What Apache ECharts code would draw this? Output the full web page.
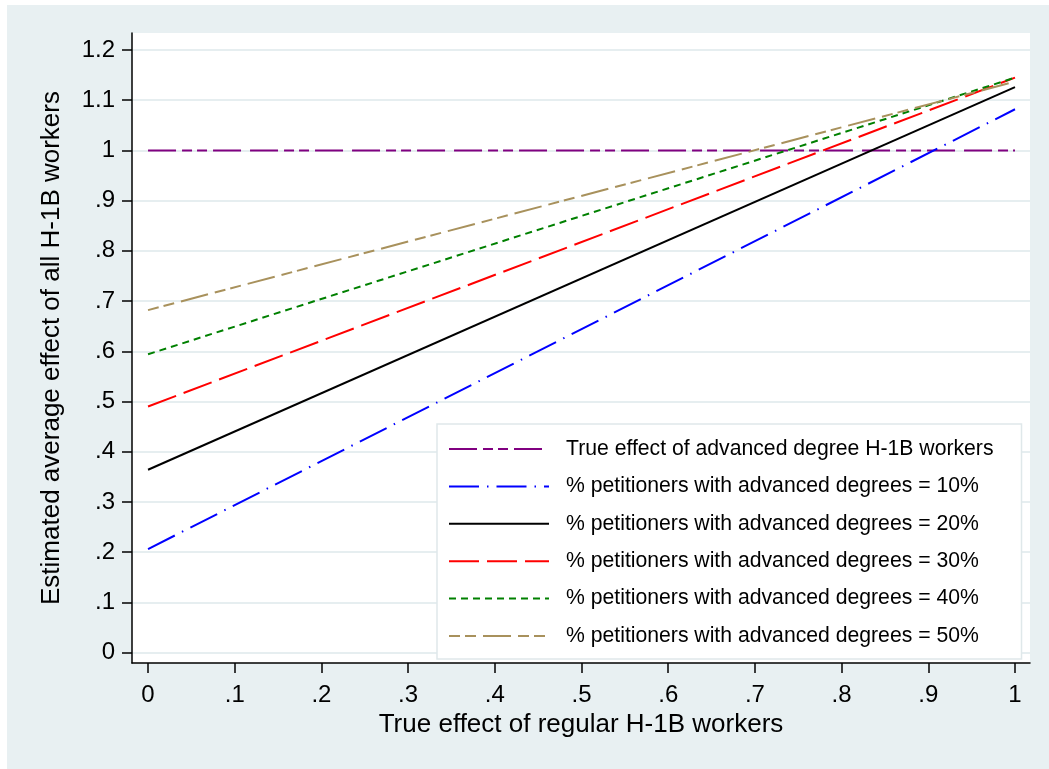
<!DOCTYPE html>
<html>
<head>
<meta charset="utf-8">
<script src="https://cdn.jsdelivr.net/npm/echarts@6/dist/echarts.min.js"></script>
<style>
  html, body { margin: 0; padding: 0; background: #ffffff; width: 1049px; height: 769px; overflow: hidden; }
  #chart { position: absolute; left: 7px; top: 5px; width: 1042px; height: 764px; }
</style>
</head>
<body>
<div id="chart"></div>
<script>
// ---- data ----
const xValues = [0, 1];
const seriesNames = [
  'True effect of advanced degree H-1B workers',
  '% petitioners with advanced degrees = 10%',
  '% petitioners with advanced degrees = 20%',
  '% petitioners with advanced degrees = 30%',
  '% petitioners with advanced degrees = 40%',
  '% petitioners with advanced degrees = 50%'
];
const trueEffect = [1, 1];
const pct10 = [0.206, 1.082];
const pct20 = [0.364, 1.126];
const pct30 = [0.490, 1.145];
const pct40 = [0.594, 1.145];
const pct50 = [0.682, 1.137];

const xTickValues = [0, 0.1, 0.2, 0.3, 0.4, 0.5, 0.6, 0.7, 0.8, 0.9, 1];
const xTickLabels = ['0', '.1', '.2', '.3', '.4', '.5', '.6', '.7', '.8', '.9', '1'];
const yTickValues = [0, 0.1, 0.2, 0.3, 0.4, 0.5, 0.6, 0.7, 0.8, 0.9, 1, 1.1, 1.2];
const yTickLabels = ['0', '.1', '.2', '.3', '.4', '.5', '.6', '.7', '.8', '.9', '1', '1.1', '1.2'];

const xTitle = 'True effect of regular H-1B workers';
const yTitle = 'Estimated average effect of all H-1B workers';

// ---- styling ----
const FONT = "'Liberation Sans', Arial, Helvetica, sans-serif";
const styles = [
  { color: '#800080', dash: [28, 6, 10, 5, 10, 6, 28, 9] },
  { color: '#0000ff', dash: [30, 8, 1.5, 8] },
  { color: '#000000', dash: 'solid' },
  { color: '#ff0000', dash: [30, 8] },
  { color: '#008000', dash: [7, 5] },
  { color: '#a8915c', dash: [11, 5, 11, 7, 28, 7] }
];
const allValues = [trueEffect, pct10, pct20, pct30, pct40, pct50];

function labelFor(values, labels) {
  return function (v) {
    for (let i = 0; i < values.length; i++) {
      if (Math.abs(values[i] - v) < 1e-6) return labels[i];
    }
    return '';
  };
}

const chart = echarts.init(document.getElementById('chart'), null, { renderer: 'canvas' });

const option = {
  backgroundColor: '#e8f0f2',
  animation: false,
  textStyle: { fontFamily: FONT },
  grid: {
    left: 125, top: 28, width: 898, height: 630,
    show: true, backgroundColor: '#ffffff', borderWidth: 0,
    containLabel: false, outerBoundsMode: 'none'
  },
  xAxis: {
    type: 'value',
    min: -0.0185, max: 1.0173,
    name: xTitle,
    nameLocation: 'middle',
    nameGap: 48,
    nameTextStyle: { fontSize: 26, color: '#000', fontFamily: FONT },
    axisLine: { show: true, onZero: false, lineStyle: { color: '#000', width: 1.5 } },
    axisTick: { show: true, length: 10, customValues: xTickValues, lineStyle: { color: '#000', width: 1.5 } },
    axisLabel: {
      customValues: xTickValues,
      formatter: labelFor(xTickValues, xTickLabels),
      fontSize: 24, color: '#000', margin: 20, fontFamily: FONT
    },
    splitLine: { show: false }
  },
  yAxis: {
    type: 'value',
    min: -0.0209, max: 1.2339,
    name: yTitle,
    nameLocation: 'middle',
    nameGap: 67,
    nameTextStyle: { fontSize: 26, color: '#000', fontFamily: FONT },
    axisLine: { show: true, onZero: false, lineStyle: { color: '#000', width: 1.5 } },
    axisTick: { show: true, length: 10, customValues: yTickValues, lineStyle: { color: '#000', width: 1.5 } },
    axisLabel: {
      customValues: yTickValues,
      formatter: labelFor(yTickValues, yTickLabels),
      fontSize: 24, color: '#000', margin: 17, fontFamily: FONT
    },
    splitLine: { show: true, lineStyle: { color: '#e6eef0', width: 2 } }
  },
  legend: {
    show: true,
    orient: 'vertical',
    left: 430, top: 419,
    padding: [13, 28, 11, 11],
    itemWidth: 100, itemHeight: 24, itemGap: 13.4,
    backgroundColor: '#ffffff',
    borderColor: '#dfe8ea', borderWidth: 1.5, borderRadius: 0,
    itemStyle: { opacity: 0 },
    textStyle: { fontSize: 21.2, color: '#000', fontFamily: FONT, lineHeight: 24, padding: [0, 0, 0, 12] },
    data: seriesNames
  },
  series: allValues.map((vals, i) => ({
    name: seriesNames[i],
    type: 'line',
    symbol: 'none',
    data: xValues.map((x, j) => [x, vals[j]]),
    lineStyle: { color: styles[i].color, width: 2, type: styles[i].dash, cap: 'butt' },
    itemStyle: { color: styles[i].color },
    emphasis: { disabled: true }
  }))
};

chart.setOption(option);
</script>
</body>
</html>
